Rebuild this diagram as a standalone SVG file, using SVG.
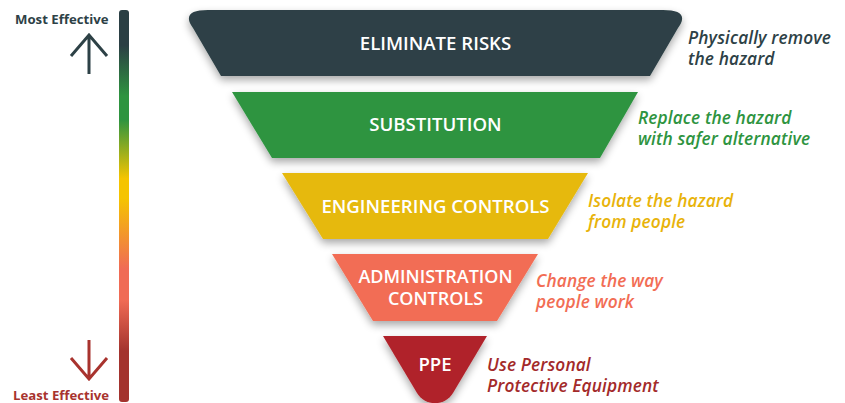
<svg xmlns="http://www.w3.org/2000/svg" width="845" height="403" viewBox="0 0 845 403">
  <defs>
    <linearGradient id="scale" x1="0" y1="0" x2="0" y2="1">
      <stop offset="0" stop-color="#2b3f44"/>
      <stop offset="0.09" stop-color="#2b3f44"/>
      <stop offset="0.22" stop-color="#2e9440"/>
      <stop offset="0.28" stop-color="#2e9440"/>
      <stop offset="0.43" stop-color="#f5c400"/>
      <stop offset="0.48" stop-color="#f5c400"/>
      <stop offset="0.66" stop-color="#f06b55"/>
      <stop offset="0.74" stop-color="#f06b55"/>
      <stop offset="0.87" stop-color="#a3332e"/>
      <stop offset="1" stop-color="#a3332e"/>
    </linearGradient>
    <filter id="shadow" x="-10%" y="-20%" width="120%" height="160%">
      <feGaussianBlur in="SourceAlpha" stdDeviation="4"/>
      <feOffset dx="0" dy="4" result="blur"/>
      <feComponentTransfer><feFuncA type="linear" slope="0.35"/></feComponentTransfer>
      <feMerge><feMergeNode/><feMergeNode in="SourceGraphic"/></feMerge>
    </filter>
  </defs>
  <style>
    .lvl { font-family: "Open Sans", "Noto Sans", sans-serif; font-weight: 600; font-size: 18.6px; fill: #ffffff; text-anchor: middle; }
    .lvl2 { font-size: 18px; }
    .note { font-family: "Open Sans", "Noto Sans", sans-serif; font-weight: 600; font-style: italic; font-size: 17.3px; letter-spacing: 0.12px; }
    .scale-label { font-family: "Open Sans", "Noto Sans", sans-serif; font-weight: 700; font-size: 13.2px; }
    .arrow { fill: none; stroke-width: 3; stroke-linecap: butt; stroke-linejoin: miter; }
  </style>

  <!-- effectiveness scale -->
  <g id="scale-bar">
    <rect x="119" y="10" width="10" height="392" rx="3" fill="url(#scale)"/>
    <text class="scale-label" x="15" y="24" fill="#2d4146">Most Effective</text>
    <path class="arrow" stroke="#2d4146" d="M89 74 V35 M71 56 L89 35 L107 56"/>
    <path class="arrow" stroke="#a8332e" d="M89 340 V379 M71 358 L89 379 L107 358"/>
    <text class="scale-label" x="13" y="400" fill="#a8332e">Least Effective</text>
  </g>

  <!-- hierarchy levels -->
  <g id="eliminate">
    <path filter="url(#shadow)" fill="#2d4146" d="M208 10 L663 10 Q691 10 678 28 L650 76 L221 76 L193 28 Q180 10 208 10 Z"/>
    <text class="lvl" x="435.5" y="50">ELIMINATE RISKS</text>
    <text class="note" fill="#2d4146"><tspan x="688" y="44">Physically remove</tspan><tspan x="688" y="65">the hazard</tspan></text>
  </g>

  <g id="substitution">
    <path filter="url(#shadow)" fill="#2e9440" d="M232 92 L638 92 L600 158 L272 158 Z"/>
    <text class="lvl" x="435.5" y="131">SUBSTITUTION</text>
    <text class="note" fill="#2e9440"><tspan x="638" y="124">Replace the hazard</tspan><tspan x="638" y="145">with safer alternative</tspan></text>
  </g>

  <g id="engineering">
    <path filter="url(#shadow)" fill="#e6b90c" d="M282 173 L588 173 L548 239 L323 239 Z"/>
    <text class="lvl" x="435.5" y="213">ENGINEERING CONTROLS</text>
    <text class="note" fill="#e8b30a"><tspan x="588" y="207">Isolate the hazard</tspan><tspan x="588" y="228">from people</tspan></text>
  </g>

  <g id="administration">
    <path filter="url(#shadow)" fill="#f26d54" d="M332 254 L538 254 L497 321 L373 321 Z"/>
    <text class="lvl lvl2"><tspan x="435.5" y="283">ADMINISTRATION</tspan><tspan x="435.5" y="305">CONTROLS</tspan></text>
    <text class="note" fill="#f26d54"><tspan x="536" y="287">Change the way</tspan><tspan x="536" y="308">people work</tspan></text>
  </g>

  <g id="ppe">
    <path filter="url(#shadow)" fill="#b0222a" d="M383 336 L487 336 L453 393 A21 21 0 0 1 417 393 Z"/>
    <text class="lvl" x="435" y="371">PPE</text>
    <text class="note" fill="#a32a2a"><tspan x="487" y="371">Use Personal</tspan><tspan x="487" y="392">Protective Equipment</tspan></text>
  </g>

  <g id="connectors"/>
</svg>
